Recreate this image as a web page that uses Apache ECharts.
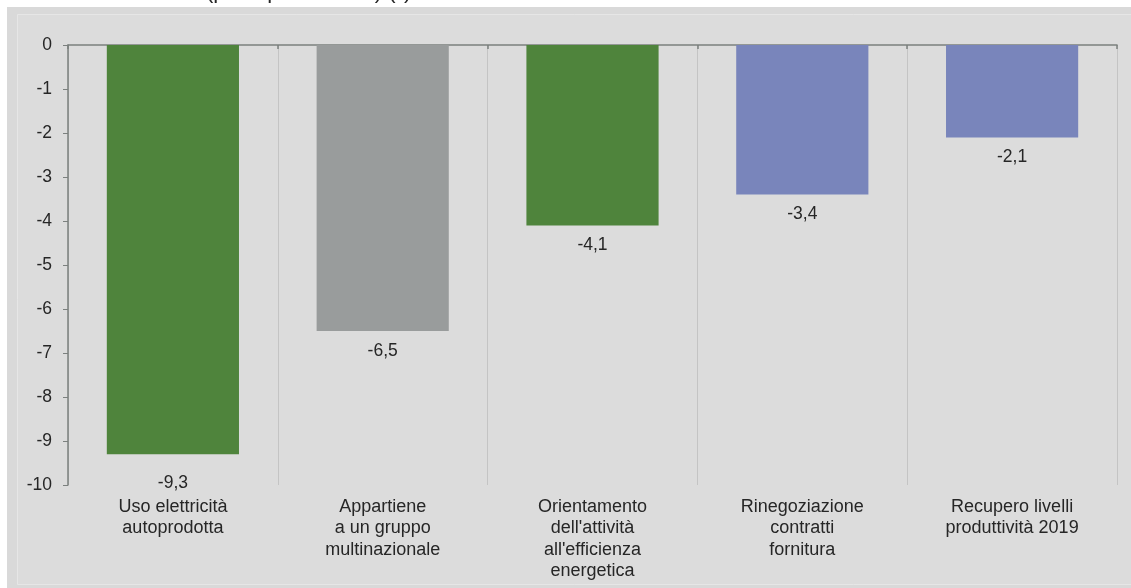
<!DOCTYPE html>
<html>
<head>
<meta charset="utf-8">
<script src="https://cdn.jsdelivr.net/npm/echarts@6/dist/echarts.min.js"></script>
<style>
  html, body { margin: 0; padding: 0; background: #ffffff; }
  #chart { width: 1131px; height: 588px; }
</style>
</head>
<body>
<div id="chart"></div>
<script>
// Categories, values and per-bar colours
const categories = [
  'Uso elettricità\nautoprodotta',
  'Appartiene\na un gruppo\nmultinazionale',
  "Orientamento\ndell'attività\nall'efficienza\nenergetica",
  'Rinegoziazione\ncontratti\nfornitura',
  'Recupero livelli\nproduttività 2019'
];
const values = [-9.3, -6.5, -4.1, -3.4, -2.1];
const barColors = ['#4f843c', '#999c9c', '#4f843c', '#7985bb', '#7985bb'];
const yMin = -10;
const yMax = 0;
const yStep = 1;
const subtitle = '(punti percentuali) (*)';

const FONT = "'Liberation Sans', Arial, sans-serif";
const TEXT = '#262626';
const AXIS = '#7b807e';
const GRID = '#c4c4c4';

const chart = echarts.init(document.getElementById('chart'), null, { renderer: 'canvas' });

const barData = values.map((v, i) => ({
  value: v,
  itemStyle: { color: barColors[i] },
  label: i === 0 ? { distance: 20 } : undefined
}));

chart.setOption({
  animation: false,
  backgroundColor: '#ffffff',
  textStyle: { fontFamily: FONT },
  graphic: [
    {
      type: 'rect', z: -10, silent: true,
      shape: { x: 7, y: 7, width: 1124, height: 581 },
      style: { fill: '#d9d9d9' }
    },
    {
      type: 'rect', z: -9, silent: true,
      shape: { x: 17.5, y: 14.5, width: 1120, height: 570 },
      style: { fill: '#dcdcdc', stroke: '#e6e6e6', lineWidth: 1 }
    },
    {
      type: 'text', z: -8, silent: true,
      x: 206, y: 3,
      style: {
        text: subtitle,
        font: "22px " + FONT,
        fill: TEXT,
        verticalAlign: 'bottom',
        align: 'left'
      }
    }
  ],
  grid: { left: 68, right: 14, top: 45, bottom: 103 },
  xAxis: [
    {
      type: 'category',
      data: categories,
      position: 'top',
      axisLine: { show: true, lineStyle: { color: AXIS, width: 1.5 } },
      axisTick: { show: true, inside: true, length: 4, lineStyle: { color: AXIS, width: 1.5 } },
      axisLabel: { show: false },
      splitLine: { show: true, lineStyle: { color: GRID, width: 1 } }
    },
    {
      type: 'category',
      data: categories,
      position: 'bottom',
      axisLine: { show: false },
      axisTick: { show: false },
      splitLine: { show: false },
      axisLabel: {
        interval: 0,
        margin: 11,
        fontSize: 18,
        lineHeight: 21.5,
        color: TEXT,
        fontFamily: FONT,
        align: 'center'
      }
    }
  ],
  yAxis: {
    type: 'value',
    min: yMin,
    max: yMax,
    interval: yStep,
    axisLine: { show: true, lineStyle: { color: AXIS, width: 1.5 } },
    axisTick: { show: true, length: 5, lineStyle: { color: AXIS, width: 1 } },
    axisLabel: { margin: 16, fontSize: 17.5, color: TEXT, fontFamily: FONT },
    splitLine: { show: false }
  },
  series: [
    {
      type: 'bar',
      xAxisIndex: 0,
      data: barData,
      barWidth: '63%',
      label: {
        show: true,
        position: 'bottom',
        distance: 11,
        fontSize: 17.5,
        color: TEXT,
        fontFamily: FONT,
        formatter: p => String(p.value).replace('.', ',')
      }
    }
  ]
});
</script>
</body>
</html>
